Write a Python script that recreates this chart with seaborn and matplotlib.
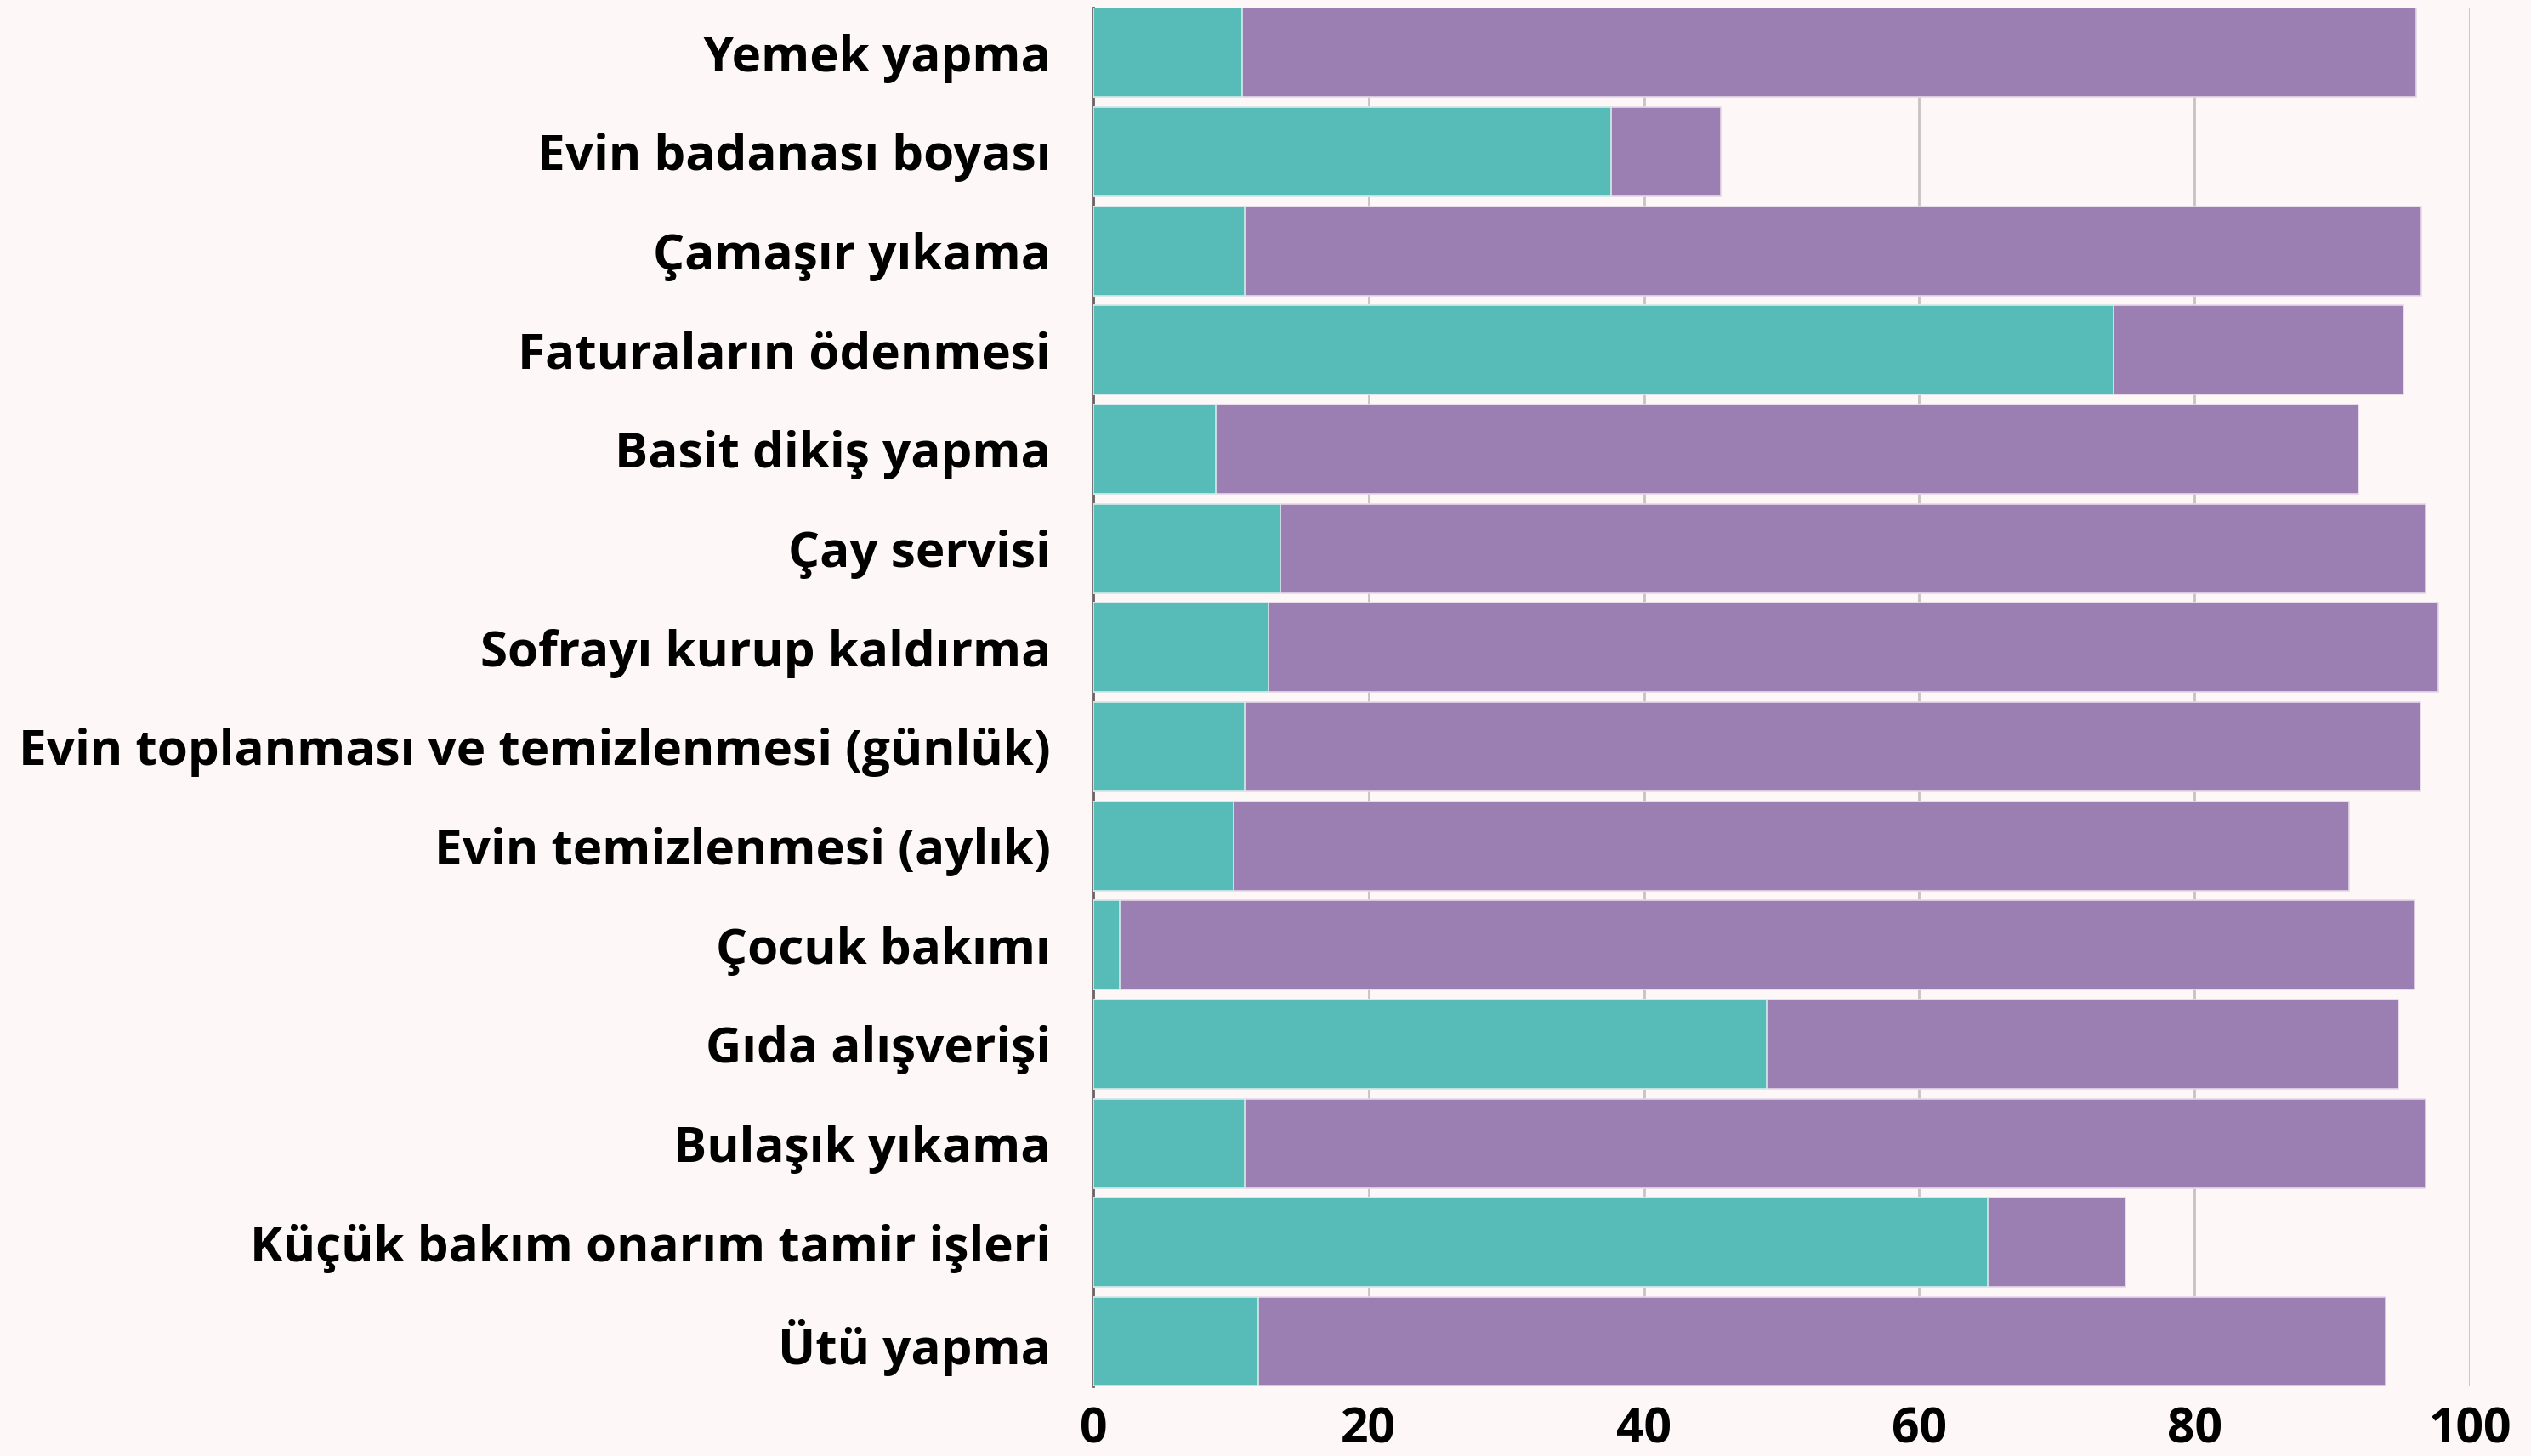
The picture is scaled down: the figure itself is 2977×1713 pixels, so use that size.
import matplotlib
matplotlib.use("Agg")
import matplotlib.pyplot as plt
import seaborn as sns
import pandas as pd

categories = [
    "Yemek yapma",
    "Evin badanası boyası",
    "Çamaşır yıkama",
    "Faturaların ödenmesi",
    "Basit dikiş yapma",
    "Çay servisi",
    "Sofrayı kurup kaldırma",
    "Evin toplanması ve temizlenmesi (günlük)",
    "Evin temizlenmesi (aylık)",
    "Çocuk bakımı",
    "Gıda alışverişi",
    "Bulaşık yıkama",
    "Küçük bakım onarım tamir işleri",
    "Ütü yapma",
]
teal_values = [10.8, 37.6, 11.0, 74.1, 8.9, 13.6, 12.7, 11.0, 10.2, 1.9, 48.9, 11.0, 65.0, 12.0]
purple_values = [85.3, 8.0, 85.5, 21.1, 83.0, 83.2, 85.0, 85.4, 81.0, 94.1, 45.9, 85.8, 10.0, 81.9]
x_ticks = [0, 20, 40, 60, 80, 100]

df = pd.DataFrame({"category": categories, "teal": teal_values, "purple": purple_values})
df["total"] = df["teal"] + df["purple"]

BG = "#fdf7f7"
TEAL = "#57bbb8"
PURPLE = "#9b7eb2"

sns.set_theme(style="white")
plt.rcParams["font.family"] = ["Open Sans", "DejaVu Sans"]

fig = plt.figure(figsize=(2977 / 200, 1713 / 200), dpi=200, facecolor=BG)
ax = fig.add_axes([1286 / 2977, 1 - 1631 / 1713, (2905 - 1286) / 2977, (1631 - 9.3) / 1713])
ax.set_facecolor(BG)

sns.barplot(data=df, y="category", x="total", order=categories, color=PURPLE,
            saturation=1, width=0.9, orient="h", ax=ax,
            edgecolor="#e6d8ea", linewidth=0.6, zorder=2)
sns.barplot(data=df, y="category", x="teal", order=categories, color=TEAL,
            saturation=1, width=0.9, orient="h", ax=ax,
            edgecolor="#d5ecea", linewidth=0.6, zorder=3)

ax.set_xlim(0, 100)
ax.set_ylim(len(categories) - 0.55, -0.45)
ax.set_xticks(x_ticks)
ax.set_xticklabels([str(t) for t in x_ticks])
ax.set_xlabel("")
ax.set_ylabel("")

ax.grid(axis="x", color="#c9c2c4", linewidth=1.0, zorder=0)
ax.grid(axis="y", visible=False)
ax.set_axisbelow(True)
for s in ["top", "right", "bottom"]:
    ax.spines[s].set_visible(False)
ax.spines["left"].set_color("#6e6466")
ax.spines["left"].set_linewidth(1.0)
ax.spines["left"].set_zorder(1)

ax.tick_params(axis="y", length=0, pad=18, labelsize=21, labelcolor="black")
ax.tick_params(axis="x", length=0, pad=8, labelsize=20.5, labelcolor="black")
for lab in ax.get_yticklabels() + ax.get_xticklabels():
    lab.set_fontweight("bold")

fig.savefig("out.png", dpi=200, facecolor=BG)
